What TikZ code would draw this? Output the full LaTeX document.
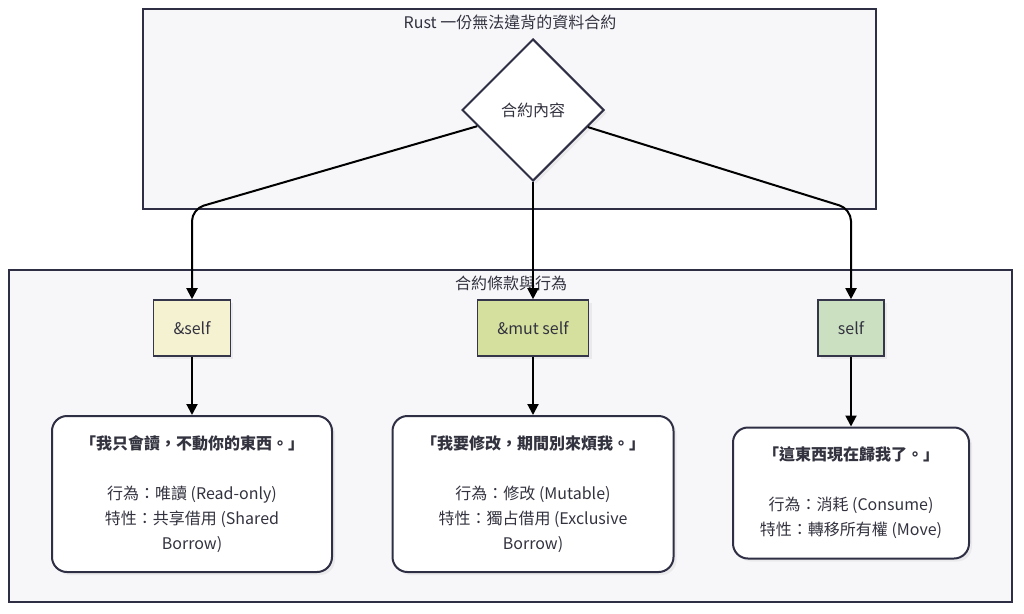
\documentclass[tikz,border=0pt]{standalone}
\usepackage{fontspec}
\setmainfont{Noto Sans CJK TC}
\usetikzlibrary{shapes.geometric,arrows.meta,shadows}
\definecolor{cadre}{HTML}{2E2E44}
\definecolor{fond}{HTML}{F7F7FA}
\definecolor{texte}{HTML}{333340}
\definecolor{jaune}{HTML}{F5F2D2}
\definecolor{olive}{HTML}{D5E09E}
\definecolor{vert}{HTML}{CBDFC1}

\begin{document}
\begin{tikzpicture}[x=1pt,y=-1pt,text=texte,font=\fontsize{16}{25}\selectfont]
\tikzstyle{lien}=[->,>={Triangle[length=11pt,width=11pt]},rounded corners=12pt,line width=2pt]
\tikzset{groupe/.style={draw=cadre,line width=2pt,fill=fond},
ombre/.style={drop shadow={shadow xshift=3pt,shadow yshift=-3pt,opacity=0.10}},
cle/.style={draw=cadre!90!gray,line width=1.6pt,fill=#1,minimum height=56pt,inner xsep=20pt,ombre},
cle/.default={white},
regle/.style={draw=cadre,line width=2pt,fill=white,rounded corners=15pt,align=center,ombre}}

\useasboundingbox (0,0) rectangle (1024,613);
\fill[white] (0,0) rectangle (1024,613);

% les deux groupes
\draw[groupe] (143,9) rectangle (876,209);
\draw[groupe] (9,270) rectangle (1012,602);
\node (titre1) at (510,22) {Rust 一份無法違背的資料合約};
\node (titre2) at (511,283) {合約條款與行為};

\node[diamond,draw=cadre,line width=2pt,fill=white,minimum width=142pt,minimum height=142pt,inner sep=0pt,ombre] (contrat) at (533,110) {合約內容};

\node[cle=jaune] (cle1) at (192,328) {\&self};
\node[cle=olive] (cle2) at (533,328) {\&mut self};
\node[cle=vert] (cle3) at (851,328) {self};

\node[regle,minimum width=280pt,minimum height=156pt] (regle1) at (192,494) {\textbf{「我只會讀，不動你的東西。」}\\[25pt]行為：唯讀 (Read-only)\\特性：共享借用 (Shared\\Borrow)};
\node[regle,minimum width=281pt,minimum height=156pt] (regle2) at (533,494) {\textbf{「我要修改，期間別來煩我。」}\\[25pt]行為：修改 (Mutable)\\特性：獨占借用 (Exclusive\\Borrow)};
\node[regle,minimum width=236pt,minimum height=131pt] (regle3) at (851,493) {\textbf{「這東西現在歸我了。」}\\[25pt]行為：消耗 (Consume)\\特性：轉移所有權 (Move)};

\coordinate (coude1) at (192,209);
\coordinate (coude3) at (851,209);

\draw[lien] (contrat) -- (coude1) -- (cle1);
\draw[lien] (contrat) -- (cle2);
\draw[lien] (contrat) -- (coude3) -- (cle3);
\draw[lien] (cle1) -- (regle1);
\draw[lien] (cle2) -- (regle2);
\draw[lien] (cle3) -- (regle3);

\end{tikzpicture}
\end{document}
